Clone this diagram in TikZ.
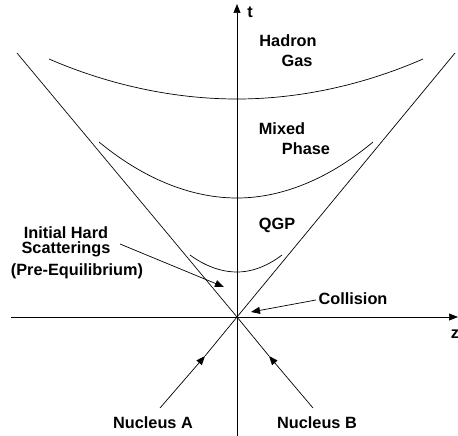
\documentclass[tikz,border=0pt]{standalone}
\usepackage{fontspec}
\setmainfont{Liberation Sans}
\usetikzlibrary{arrows.meta}
\begin{document}
\begin{tikzpicture}[x=1pt,y=-1pt,
  thinline/.style={line width=0.7pt},
  tip/.style={-{Triangle[length=9pt,width=7pt]}},
  lbl/.style={font=\fontsize{16.3pt}{16pt}\selectfont\bfseries, inner sep=0pt, anchor=center}]
\useasboundingbox (0,0) rectangle (458,436);
% key points
\coordinate (O) at (237,317);
\coordinate (tb) at (237,436);
\coordinate (tt) at (237,4);
\coordinate (zl) at (11,317);
\coordinate (zr) at (458,317);
\coordinate (ul) at (17,53);
\coordinate (ur) at (455,53);
\coordinate (na) at (160,408);
\coordinate (nam) at (205,356);
\coordinate (nb) at (313,408);
\coordinate (nbm) at (269,356);
% axes
\draw[thinline,tip] (tb) -- (tt);
\draw[thinline,tip] (zl) -- (zr);
% light cone
\draw[thinline] (ul) -- (O);
\draw[thinline] (ur) -- (O);
\draw[thinline,tip] (na) -- (nam);
\draw[thinline] (nam) -- (O);
\draw[thinline,tip] (nb) -- (nbm);
\draw[thinline] (nbm) -- (O);
% hyperbolae
\draw[thinline] (49,59) parabola bend (237,99) (423,59);
\draw[thinline] (99,142) parabola bend (237,198) (373,142);
\draw[thinline] (190,255) parabola bend (237,272) (282,255);
% labels
\node[lbl] (t) at (250,12) {t};
\node[lbl] (z) at (455,334) {z};
\node[lbl] (hadron) at (288,41) {Hadron};
\node[lbl] (gas) at (297,61) {Gas};
\node[lbl] (mixed) at (282,129) {Mixed};
\node[lbl] (phase) at (306,149) {Phase};
\node[lbl] (qgp) at (277,225) {QGP};
\node[lbl] (ih) at (66,233) {Initial Hard};
\node[lbl] (sc) at (66,249.5) {Scatterings};
\node[lbl] (pe) at (77,271) {(Pre-Equilibrium)};
\node[lbl] (col) at (353,299) {Collision};
\node[lbl] (nucA) at (153,423) {Nucleus A};
\node[lbl] (nucB) at (317,423) {Nucleus B};
% pointer arrows
\coordinate (ihs) at (120,244);
\coordinate (iht) at (224,287);
\coordinate (cols) at (316,300);
\coordinate (colt) at (251,312);
\draw[thinline,tip] (ihs) -- (iht);
\draw[thinline,tip] (cols) -- (colt);
\end{tikzpicture}
\end{document}
